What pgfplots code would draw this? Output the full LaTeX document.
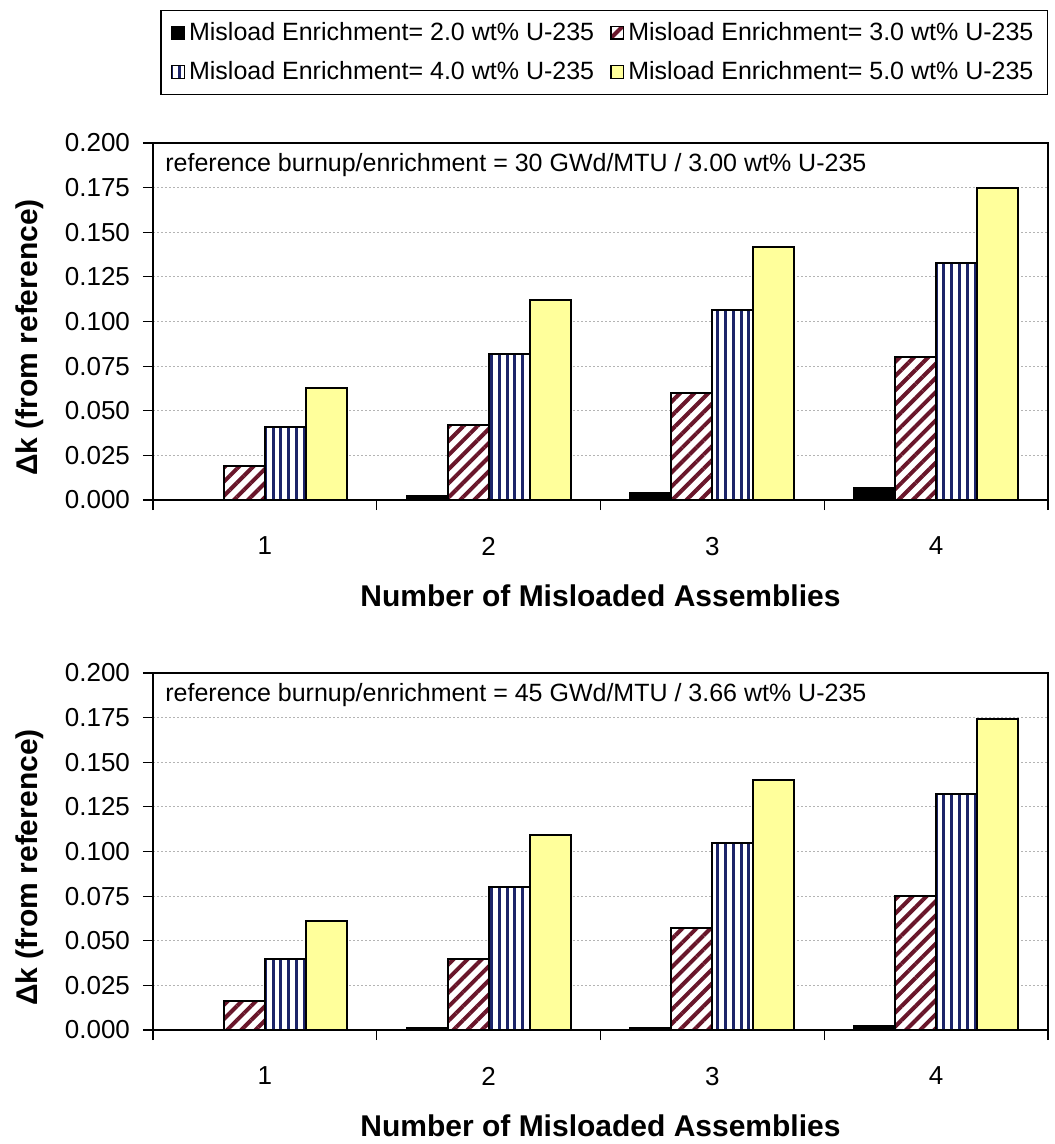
\documentclass[border=0pt]{standalone}
\usepackage{fontspec}
\setmainfont{Liberation Sans}
\usepackage{pgfplots}
\pgfplotsset{compat=1.18}
\usetikzlibrary{patterns.meta}

\definecolor{hatchred}{RGB}{105,22,42}
\definecolor{stripeblue}{RGB}{28,36,105}
\definecolor{baryellow}{RGB}{255,255,155}
\definecolor{gridgray}{RGB}{180,180,180}

\pgfplotsset{
  misload/.style={
    width=447.5pt, height=178.5pt, scale only axis,
    ybar=0pt, bar width=0.183,
    xmin=0.5, xmax=4.5, ymin=0, ymax=0.2,
    axis line style={line width=1.1pt},
    tick pos=left, tick align=outside,
    major tick length=5pt,
    tick style={black, line width=0.6pt},
    xtick={0.5,1.5,2.5,3.5,4.5}, xticklabels={},
    extra x ticks={1,2,3,4}, extra x tick labels={1,2,3,4},
    extra x tick style={major tick length=0pt, tick label style={yshift=-15pt}},
    ytick={0,0.025,0.05,0.075,0.1,0.125,0.15,0.175,0.2},
    yticklabel style={/pgf/number format/.cd, fixed, fixed zerofill, precision=3, /tikz/.cd, xshift=-3pt},
    /pgf/number format/assume math mode=true,
    ticklabel style={font=\fontsize{13}{15}\selectfont},
    ymajorgrids,
    major grid style={gridgray, line width=0.6pt, dash pattern=on 1pt off 1pt},
    xlabel={Number of Misloaded Assemblies},
    ylabel={Δk (from reference)},
    label style={font=\fontsize{15}{18}\selectfont\bfseries},
    xlabel style={at={(axis description cs:0.5,-0.268)}, anchor=center},
    ylabel style={at={(axis description cs:-0.1375,0.455)}, anchor=center},
    every axis plot/.append style={line width=1pt},
    every axis plot post/.append style={
      legend image code/.code={\draw[##1, line width=0.7pt] (0pt,-3.2pt) rectangle (6.4pt,3.2pt);}},
  },
  e2/.style={draw=black, fill=black},
  e3/.style={draw=black, fill=white,
    postaction={pattern={Lines[angle=45,distance=5pt,line width=2pt]}, pattern color=hatchred}},
  e4/.style={draw=black, fill=white,
    postaction={pattern={Lines[angle=90,distance=3.9pt,line width=1.5pt]}, pattern color=stripeblue}},
  e5/.style={draw=black, fill=baryellow},
}

\begin{document}
\begin{tikzpicture}
\begin{axis}[misload, name=top,
    legend columns=2,
    legend cell align=left,
    legend style={at={(1,1)}, anchor=south east, yshift=24pt,
      draw=black, line width=0.6pt,
      font=\fontsize{12.5}{15}\selectfont,
      inner xsep=5pt, inner ysep=4pt, row sep=5pt,
      /tikz/every even column/.append style={column sep=6pt}},
]
\addplot[e2] coordinates {(1,0.000) (2,0.002) (3,0.004) (4,0.0066)};
\addplot[e3] coordinates {(1,0.019) (2,0.042) (3,0.060) (4,0.080)};
\addplot[e4] coordinates {(1,0.041) (2,0.082) (3,0.1065) (4,0.133)};
\addplot[e5] coordinates {(1,0.063) (2,0.112) (3,0.142) (4,0.175)};
\legend{Misload Enrichment= 2.0 wt\% U-235, Misload Enrichment= 3.0 wt\% U-235,
        Misload Enrichment= 4.0 wt\% U-235, Misload Enrichment= 5.0 wt\% U-235}
\node[anchor=west, inner sep=0pt, font=\fontsize{12.5}{15}\selectfont]
  at (rel axis cs:0.0134,0.938) {reference burnup/enrichment = 30 GWd/MTU / 3.00 wt\% U-235};
\end{axis}

\begin{axis}[misload, name=bot,
    at={(top.south west)}, anchor=north west, yshift=-86.5pt,
]
\addplot[e2] coordinates {(1,0.000) (2,0.001) (3,0.001) (4,0.002)};
\addplot[e3] coordinates {(1,0.016) (2,0.040) (3,0.057) (4,0.075)};
\addplot[e4] coordinates {(1,0.040) (2,0.080) (3,0.105) (4,0.132)};
\addplot[e5] coordinates {(1,0.061) (2,0.109) (3,0.140) (4,0.174)};
\node[anchor=west, inner sep=0pt, font=\fontsize{12.5}{15}\selectfont]
  at (rel axis cs:0.0134,0.938) {reference burnup/enrichment = 45 GWd/MTU / 3.66 wt\% U-235};
\end{axis}

\path (top.north west) ++(-76.5pt,71.5pt);
\path (bot.south east) ++(2pt,-57pt);
\end{tikzpicture}
\end{document}
